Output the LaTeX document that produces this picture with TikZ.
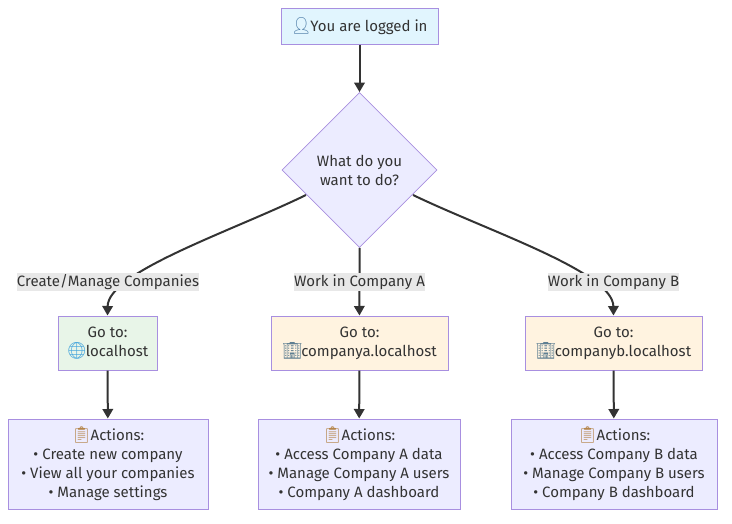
\documentclass[tikz,border=0pt]{standalone}
\usepackage{fontspec}
\setmainfont{Fira Sans}
\newfontfamily\emo{Noto Emoji}
\usetikzlibrary{arrows.meta,shapes.geometric}
\definecolor{ink}{HTML}{333333}
\definecolor{txt}{HTML}{333333}
\definecolor{edgeC}{HTML}{333333}
\definecolor{strokeC}{HTML}{A88FE0}
\definecolor{fillTop}{HTML}{E1F5FE}
\definecolor{fillGreen}{HTML}{E8F5E8}
\definecolor{fillOrange}{HTML}{FFF3E0}
\definecolor{fillLav}{HTML}{ECECFF}
\definecolor{labelBg}{HTML}{E8E8E8}
\definecolor{personC}{HTML}{4F7EA8}
\definecolor{globeC}{HTML}{45A5DC}
\definecolor{buildC}{HTML}{5F7F92}
\definecolor{clipC}{HTML}{B5854A}
\newcommand{\icon}[2]{\makebox[20pt][c]{\textcolor{#1}{\emo\fontsize{16.5}{16.5}\selectfont #2}}}
\newcommand{\person}{\icon{personC}{👤}}
\newcommand{\globe}{\icon{globeC}{🌐}}
\newcommand{\build}{\icon{buildC}{🏢}}
\newcommand{\clip}{\icon{clipC}{📋}}
\tikzset{
  x=1pt,y=-1pt,
  every node/.style={font=\fontsize{15}{19}\selectfont,text=txt,align=center,inner sep=0pt},
  box/.style={draw=strokeC,line width=1pt,rectangle,anchor=center},
  topbox/.style={box,fill=fillTop,minimum width=157pt,minimum height=36pt},
  greenbox/.style={box,fill=fillGreen,minimum width=99pt,minimum height=54pt},
  orangebox/.style={box,fill=fillOrange,minimum width=177pt,minimum height=54pt},
  actbox/.style={box,fill=fillLav,minimum height=90pt},
  decision/.style={diamond,draw=strokeC,line width=.8pt,fill=fillLav,minimum width=155pt,minimum height=155pt,aspect=1},
  elabel/.style={fill=labelBg,minimum height=18pt},
  conn/.style={draw=edgeC,line width=2pt,-{Triangle[length=9.5pt,width=10.5pt]}},
  connplain/.style={draw=edgeC,line width=2pt}
}
\begin{document}
\begin{tikzpicture}
\useasboundingbox (0,0) rectangle (732,523);
\node[topbox] (top) at (359.5,26) {\person\kern-1pt You are logged in};
\node[decision] (q) at (359.5,170) {What do you\\want to do?};
\node[greenbox] (lh) at (107.5,343) {Go to:\\\globe\kern-1pt localhost};
\node[orangebox] (ca) at (359.5,343) {Go to:\\\build\kern-1pt companya.localhost};
\node[orangebox] (cb) at (613.5,343) {Go to:\\\build\kern-1pt companyb.localhost};
\node[actbox,minimum width=200pt] (a1) at (108,464) {\clip\kern-1pt Actions:\\• Create new company\\• View all your companies\\• Manage settings};
\node[actbox,minimum width=202pt] (a2) at (359,464) {\clip\kern-1pt Actions:\\• Access Company A data\\• Manage Company A users\\• Company A dashboard};
\node[actbox,minimum width=206pt] (a3) at (614,464) {\clip\kern-1pt Actions:\\• Access Company B data\\• Manage Company B users\\• Company B dashboard};
\coordinate (ql) at (306,195);
\coordinate (qr) at (413,195);
\draw[conn] (top) -- (q);
\draw[conn] (ql) .. controls (230,232) and (108,272) .. (lh.north);
\draw[conn] (q.south) .. controls (360,270) and (359,290) .. (ca.north);
\draw[conn] (qr) .. controls (490,232) and (613,272) .. (cb.north);
\draw[conn] (lh) -- (a1);
\draw[conn] (ca) -- (a2);
\draw[conn] (cb) -- (a3);
\node[elabel] (l1) at (108,282) {Create/Manage Companies};
\node[elabel] (l2) at (359.5,282) {Work in Company A};
\node[elabel] (l3) at (613.5,282) {Work in Company B};
\end{tikzpicture}
\end{document}
